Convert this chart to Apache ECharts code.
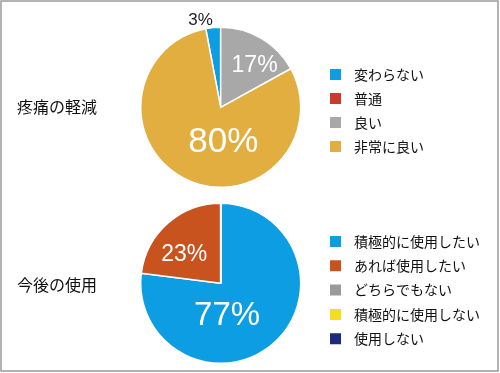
<!DOCTYPE html>
<html><head><meta charset="utf-8">
<script src="https://cdn.jsdelivr.net/npm/echarts@6/dist/echarts.min.js"></script>
<style>html,body{margin:0;padding:0;background:#fff}#c{width:500px;height:373px}</style>
</head><body><div id="c"></div>
<script>
// Data
const titles = ['疼痛の軽減', '今後の使用'];
const painNames = ['変わらない', '普通', '良い', '非常に良い'];
const painValues = [3, 0, 17, 80];
const painColors = ['#0c9de2', '#cb3a2f', '#a8a8a8', '#e3ae40'];
const useNames = ['積極的に使用したい', 'あれば使用したい', 'どちらでもない', '積極的に使用しない', '使用しない'];
const useValues = [77, 23, 0, 0, 0];
const useColors = ['#0c9de2', '#c8531f', '#9a9a9a', '#f5df1c', '#1d2a7e'];

const FONT = '"Liberation Sans", "Noto Sans CJK JP", sans-serif';
const JP = '"Noto Sans CJK JP", sans-serif';
// label nudges [seriesIndex][dataIndex] = [dx, dy]
const nudges = [
  [[-16, -44], [0, 0], [12, -5], [21, -4]],
  [[-22, 0], [-8, 4], [0, 0], [0, 0], [0, 0]]
];
const labelSizes = [[17, 0, 23, 35], [33, 23, 0, 0, 0]];

function mkData(names, values, colors, si) {
  return names.map((n, i) => ({
    name: n, value: values[i],
    itemStyle: { color: colors[i] },
    label: {
      show: values[i] > 0,
      fontSize: labelSizes[si][i],
      color: (si === 0 && i === 0) ? '#222' : '#fff'
    }
  }));
}

const chart = echarts.init(document.getElementById('c'), null, { renderer: 'canvas' });
const legendBase = {
  orient: 'vertical', left: 328, padding: 0, itemWidth: 13, itemHeight: 13, itemGap: 9,
  icon: 'rect', selectedMode: false,
  textStyle: { fontFamily: JP, fontSize: 14, color: '#111', lineHeight: 14, padding: [0, 0, 0, 7] }
};
chart.setOption({
  animation: false,
  graphic: [{ type: 'rect', shape: { x: 1, y: 1, width: 497, height: 370 }, style: { fill: 'none', stroke: '#9a9a9a', lineWidth: 1.5 }, silent: true }],
  title: [
    { text: titles[0], left: 17, top: 99, padding: 0, textStyle: { fontFamily: JP, fontSize: 16, fontWeight: 'normal', color: '#111' } },
    { text: titles[1], left: 17, top: 277, padding: 0, textStyle: { fontFamily: JP, fontSize: 16, fontWeight: 'normal', color: '#111' } }
  ],
  legend: [
    Object.assign({}, legendBase, { top: 67, data: painNames }),
    Object.assign({}, legendBase, { top: 234, itemGap: 9.3, data: useNames })
  ],
  series: [
    {
      type: 'pie', center: [220.7, 107.3], radius: 80,
      startAngle: 90 + painValues[0] * 3.6, clockwise: true,
      itemStyle: { borderColor: '#fff', borderWidth: 1.5 },
      label: { position: 'inside', formatter: '{c}%', fontFamily: FONT },
      labelLine: { show: false },
      labelLayout: p => ({ dx: nudges[0][p.dataIndex][0], dy: nudges[0][p.dataIndex][1] }),
      emphasis: { disabled: true },
      data: mkData(painNames, painValues, painColors, 0)
    },
    {
      type: 'pie', center: [220.7, 283.3], radius: 80,
      startAngle: 90, clockwise: true,
      itemStyle: { borderColor: '#fff', borderWidth: 1.5 },
      label: { position: 'inside', formatter: '{c}%', fontFamily: FONT },
      labelLine: { show: false },
      labelLayout: p => ({ dx: nudges[1][p.dataIndex][0], dy: nudges[1][p.dataIndex][1] }),
      emphasis: { disabled: true },
      data: mkData(useNames, useValues, useColors, 1)
    }
  ]
});
</script></body></html>
